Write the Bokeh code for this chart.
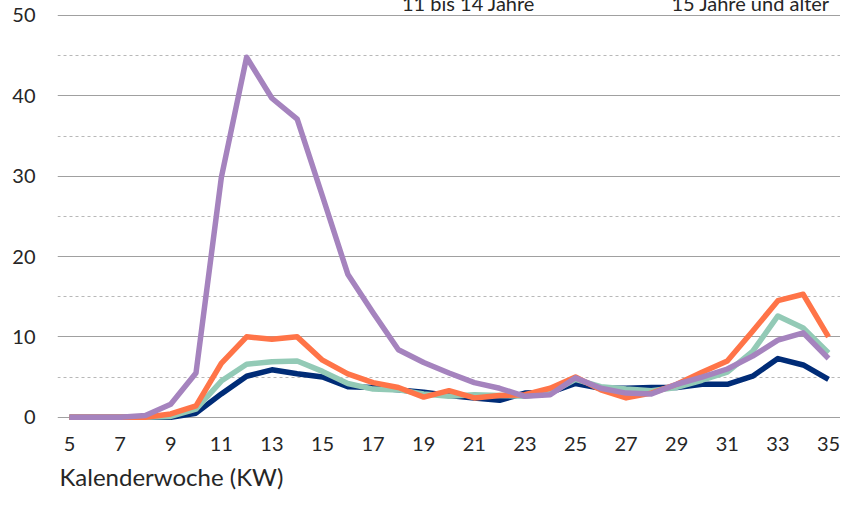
from bokeh.plotting import figure
from bokeh.models import FixedTicker, Grid, Range1d, Legend, LegendItem, Title
from bokeh.embed import file_html
from bokeh.resources import INLINE

# Kalenderwoche
weeks = list(range(5, 36))

# Series
s_0_5 = [0, 0, 0, 0, 0, 0.5, 2.9, 5.1, 5.9, 5.4, 5.0, 3.8, 3.7, 3.4, 3.1, 2.7,
         2.4, 2.1, 3.0, 3.1, 4.2, 3.6, 3.6, 3.7, 3.7, 4.1, 4.1, 5.1, 7.3, 6.5, 4.7]
s_6_10 = [0, 0, 0, 0, 0.1, 1.0, 4.5, 6.6, 6.9, 7.0, 5.7, 4.2, 3.5, 3.4, 2.9, 2.6,
          2.8, 2.7, 2.6, 3.0, 4.7, 3.8, 3.5, 3.3, 3.7, 4.6, 5.6, 8.2, 12.6, 11.1, 8.0]
s_11_14 = [0, 0, 0, 0, 0.4, 1.4, 6.7, 10.0, 9.7, 10.0, 7.1, 5.4, 4.3, 3.7, 2.5, 3.3,
           2.4, 2.7, 2.8, 3.6, 5.0, 3.4, 2.4, 3.0, 4.1, 5.6, 7.0, 10.7, 14.5, 15.3, 10.0]
s_15_plus = [0, 0, 0, 0.2, 1.6, 5.5, 29.8, 44.8, 39.7, 37.1, 27.5, 17.8, 13.0, 8.4, 6.8, 5.5,
             4.3, 3.6, 2.6, 2.8, 4.9, 3.6, 3.0, 2.9, 4.1, 5.0, 6.0, 7.6, 9.6, 10.5, 7.3]

label_11_14 = "11 bis 14 Jahre"
label_15 = "15 Jahre und älter"
x_axis_title = "Kalenderwoche (KW)"

x_ticks = list(range(5, 36, 2))
y_major = [0, 10, 20, 30, 40, 50]
y_minor = [5, 15, 25, 35, 45]

FONT = "Lato"
TXT = "#262626"

p = figure(width=840, height=496, output_backend="svg", toolbar_location=None,
           x_range=Range1d(4.526, 35.474), y_range=Range1d(-1.033, 51.867),
           min_border_left=57, min_border_right=0, min_border_top=0, min_border_bottom=71)
p.outline_line_color = None
p.background_fill_color = "white"
p.border_fill_color = "white"

# axes
p.xaxis.ticker = FixedTicker(ticks=x_ticks)
p.yaxis.ticker = FixedTicker(ticks=y_major)
for ax in (p.xaxis[0], p.yaxis[0]):
    ax.axis_line_color = None
    ax.major_tick_line_color = None
    ax.minor_tick_line_color = None
    ax.major_tick_out = 0
    ax.major_tick_in = 0
    ax.minor_tick_out = 0
    ax.minor_tick_in = 0
    ax.major_label_text_font = FONT
    ax.major_label_text_font_size = "20px"
    ax.major_label_text_color = TXT
p.xaxis.major_label_standoff = 11
p.yaxis.major_label_standoff = 22

# grids
p.xgrid.visible = False
p.ygrid.ticker = FixedTicker(ticks=y_major)
p.ygrid.grid_line_color = "#A0A0A0"
p.ygrid.grid_line_width = 1.2
minor_grid = Grid(dimension=1, ticker=FixedTicker(ticks=y_minor),
                  grid_line_color="#B8B8B8", grid_line_dash="3 3", grid_line_width=1)
p.add_layout(minor_grid)

colors = ["#002C77", "#93CAB6", "#FF7448", "#A583BE"]
lw = 5.5
p.line(weeks, s_0_5, line_color=colors[0], line_width=lw, line_join="round")
p.line(weeks, s_6_10, line_color=colors[1], line_width=lw, line_join="round")
p.line(weeks, s_11_14, line_color=colors[2], line_width=lw, line_join="round")
p.line(weeks, s_15_plus, line_color=colors[3], line_width=lw, line_join="round")

# legend-only swatch renderers (thick keys, like the reference legend)
k3 = p.line([], [], line_color=colors[2], line_width=14)
k4 = p.line([], [], line_color=colors[3], line_width=14)

legend = Legend(items=[LegendItem(label=label_11_14, renderers=[k3]),
                       LegendItem(label=label_15, renderers=[k4])],
                location=(286, 410), orientation="horizontal",
                glyph_width=49, glyph_height=20, label_standoff=10, spacing=78,
                padding=0, margin=0, border_line_color=None, background_fill_alpha=0,
                label_text_font=FONT, label_text_font_size="20px", label_text_color=TXT)
p.add_layout(legend)

title = Title(text=x_axis_title, align="left", offset=2, standoff=12,
              text_font=FONT, text_font_size="24px", text_font_style="normal",
              text_color=TXT, text_line_height=1.0)
p.add_layout(title, "below")

open("out.html", "w").write(file_html(p, INLINE))
